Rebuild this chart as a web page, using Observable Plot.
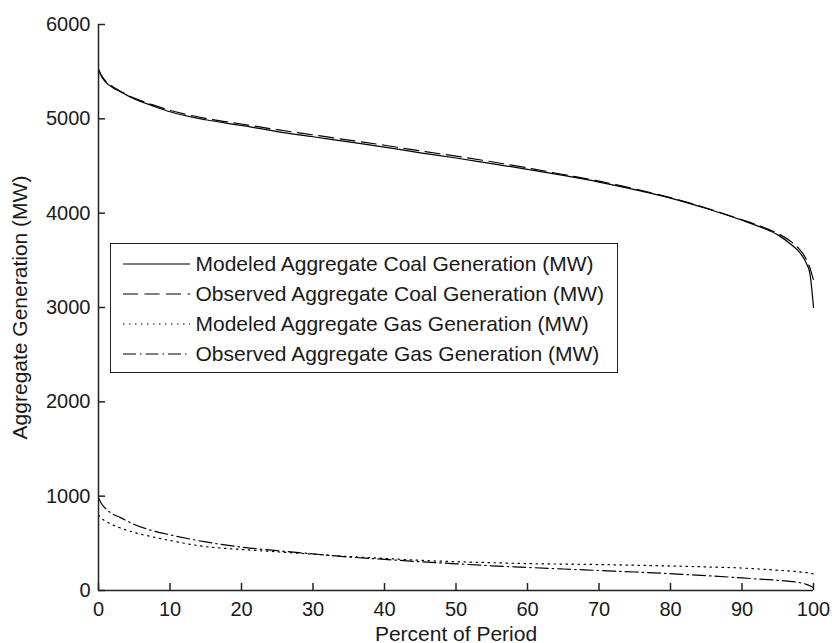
<!DOCTYPE html>
<html>
<head>
<meta charset="utf-8">
<script src="https://cdn.jsdelivr.net/npm/d3@7"></script>
<script src="https://cdn.jsdelivr.net/npm/@observablehq/plot@0.6"></script>
<style>
  body { margin: 0; background: #fff; }
  #chart { position: relative; width: 832px; height: 643px; font-family: "Liberation Sans", Arial, sans-serif; color: #1a1a1a; }
  #chart svg { display: block; }
  .legend { position: absolute; left: 110px; top: 243px; width: 508px; height: 130px; box-sizing: border-box;
            border: 1.5px solid #222; background: #fff; padding-top: 4.5px; }
  .legend .row { display: flex; align-items: center; height: 30px; }
  .legend .row svg { margin-left: 11.5px; flex: none; }
  .legend .row span { margin-left: 6px; font-size: 21px; white-space: nowrap; }
</style>
</head>
<body>
<div id="chart"></div>
<script>
// Percent of period (duration curve abscissa)
const pct = [0, 0.5, 1, 2, 3, 5, 7.5, 10, 15, 20, 25, 30, 35, 40, 45, 50, 55, 60, 65, 70, 75, 80, 85, 90, 93, 95, 97, 98, 99, 99.5, 100];

// Aggregate generation (MW), sorted high to low
const coalModeled  = [5510, 5440, 5390, 5330, 5290, 5210, 5140, 5075, 4990, 4930, 4865, 4810, 4755, 4700, 4640, 4585, 4525, 4465, 4400, 4330, 4250, 4160, 4050, 3925, 3840, 3770, 3660, 3590, 3470, 3360, 3000];
const coalObserved = [5530, 5450, 5400, 5340, 5295, 5220, 5150, 5090, 5005, 4945, 4885, 4830, 4775, 4720, 4660, 4605, 4545, 4480, 4410, 4340, 4258, 4165, 4055, 3930, 3850, 3785, 3690, 3620, 3510, 3420, 3290];
const gasModeled   = [800, 760, 735, 695, 665, 615, 570, 530, 465, 435, 410, 385, 360, 340, 320, 305, 295, 285, 280, 275, 268, 260, 250, 238, 225, 215, 205, 198, 190, 185, 175];
const gasObserved  = [980, 910, 868, 810, 775, 700, 635, 590, 515, 460, 422, 388, 355, 330, 305, 283, 262, 245, 228, 212, 196, 178, 158, 133, 118, 108, 95, 85, 65, 50, 30];

const xTicks = [0, 10, 20, 30, 40, 50, 60, 70, 80, 90, 100];
const yTicks = [0, 1000, 2000, 3000, 4000, 5000, 6000];

const seriesNames = [
  "Modeled Aggregate Coal Generation (MW)",
  "Observed Aggregate Coal Generation (MW)",
  "Modeled Aggregate Gas Generation (MW)",
  "Observed Aggregate Gas Generation (MW)"
];
const seriesDash = [null, "15,6.5", "1.5,4.5", "13,4,1.5,4"];
const seriesValues = [coalModeled, coalObserved, gasModeled, gasObserved];

const axisColor = "#222";
const lineColor = "#000";

const W = 832, H = 643;
const M = { left: 98, right: 19, top: 24, bottom: 53 };
const tickLen = 7;
const frameW = W - M.left - M.right;
const frameH = H - M.top - M.bottom;

const lineMarks = seriesValues.map((vals, i) =>
  Plot.line(pct.map((p, j) => ({ pct: p, mw: vals[j] })), {
    x: "pct", y: "mw", stroke: lineColor, strokeWidth: 1.2,
    strokeDasharray: seriesDash[i], curve: "monotone-x"
  })
);

const plot = Plot.plot({
  width: W,
  height: H,
  marginLeft: M.left,
  marginRight: M.right,
  marginTop: M.top,
  marginBottom: M.bottom,
  style: { fontSize: "20px", fontFamily: "'Liberation Sans', Arial, sans-serif", color: "#1a1a1a", background: "#fff" },
  x: { domain: [0, 100] },
  y: { domain: [0, 6000] },
  marks: [
    ...lineMarks,
    Plot.ruleX([0], { stroke: axisColor, strokeWidth: 1.5 }),
    Plot.ruleY([0], { stroke: axisColor, strokeWidth: 1.5 }),
    // short ticks pointing into the plot area
    Plot.tickX(xTicks, { x: d => d, insetTop: frameH - tickLen, stroke: axisColor, strokeWidth: 1.5 }),
    Plot.tickY(yTicks, { y: d => d, insetRight: frameW - tickLen, stroke: axisColor, strokeWidth: 1.5 }),
    Plot.axisX(xTicks, { tickSize: 0, tickPadding: 11, label: null, fontSize: 20, tickFormat: d => String(d) }),
    Plot.axisY(yTicks, { tickSize: 0, tickPadding: 8, label: null, fontSize: 20, tickFormat: d => String(d) }),
    Plot.text(["Percent of Period"], { text: d => d, frameAnchor: "bottom", textAnchor: "middle", lineAnchor: "bottom", dy: 50, fontSize: 21 }),
    Plot.text(["Aggregate Generation (MW)"], { text: d => d, frameAnchor: "left", textAnchor: "middle", lineAnchor: "middle", dx: -78, rotate: -90, fontSize: 21 })
  ]
});

const chart = document.getElementById("chart");
chart.appendChild(plot);

// legend box drawn over the upper-left part of the plot area
const legend = document.createElement("div");
legend.className = "legend";
seriesNames.forEach((name, i) => {
  const row = document.createElement("div");
  row.className = "row";
  const dash = seriesDash[i] ? ` stroke-dasharray="${seriesDash[i]}"` : "";
  row.innerHTML = `<svg width="67" height="4"><line x1="0" y1="2" x2="67" y2="2" stroke="${lineColor}" stroke-width="1.2"${dash}/></svg><span>${name}</span>`;
  legend.appendChild(row);
});
chart.appendChild(legend);
</script>
</body>
</html>
